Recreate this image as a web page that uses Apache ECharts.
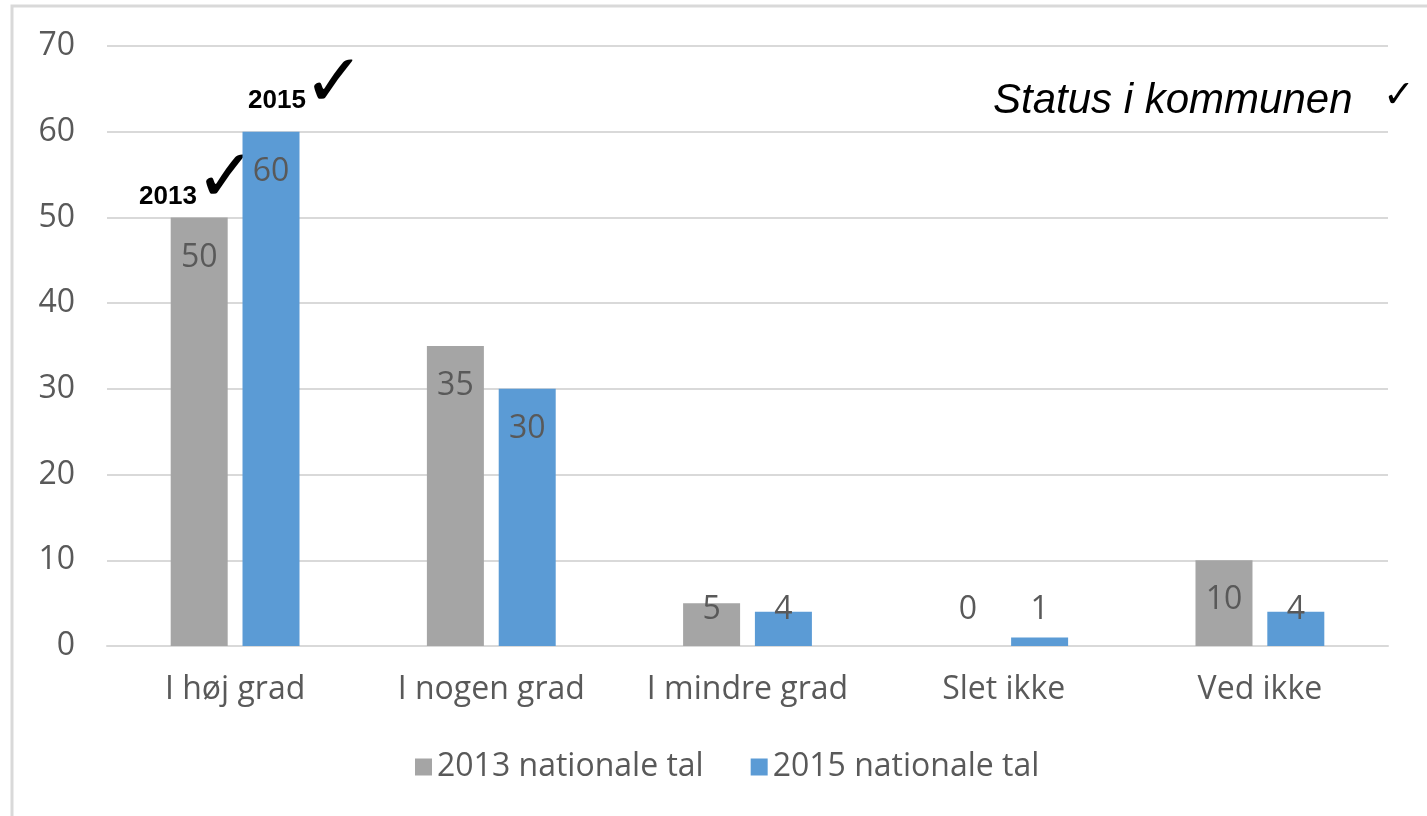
<!DOCTYPE html>
<html><head><meta charset="utf-8">
<script src="https://cdn.jsdelivr.net/npm/echarts@6/dist/echarts.min.js"></script>
<style>html,body{margin:0;padding:0;background:#fff}#c{width:1427px;height:816px}</style>
</head><body><div id="c"></div>
<script>
const categories = ['I høj grad', 'I nogen grad', 'I mindre grad', 'Slet ikke', 'Ved ikke'];
const series2013 = [50, 35, 5, 0, 10];
const series2015 = [60, 30, 4, 1, 4];
const yTicks = [0, 10, 20, 30, 40, 50, 60, 70];
const seriesNames = ['2013 nationale tal', '2015 nationale tal'];

const GRID = {left: 107, right: 39, top: 46, bottom: 170};
const H = 816 - GRID.top - GRID.bottom;
const YMAX = yTicks[yTicks.length - 1];
const pxPerUnit = H / YMAX;
// Excel-like "inside end" labels clamped so they stay above a floor line
function items(vals) {
  return vals.map(v => {
    const h = v * pxPerUnit;
    const off = Math.min(40, h - 36);
    return {value: v, label: {position: ['50%', off]}};
  });
}
const font = '"Open Sans", "Noto Sans", sans-serif';
const FS = 32;
const chart = echarts.init(document.getElementById('c'));
chart.setOption({
  animation: false,
  backgroundColor: '#fff',
  grid: GRID,
  legend: {
    top: 746, left: 410, itemWidth: 17, itemHeight: 17, itemGap: 47,
    icon: 'rect',
    textStyle: {fontFamily: font, fontSize: FS, color: '#595959'},
    data: seriesNames
  },
  xAxis: {
    type: 'category', data: categories,
    axisLine: {lineStyle: {color: '#d9d9d9', width: 2}},
    axisTick: {show: false},
    axisLabel: {fontFamily: font, fontSize: FS, color: '#595959', margin: 28, interval: 0, hideOverlap: false}
  },
  yAxis: {
    type: 'value', min: 0, max: YMAX, interval: 10,
    axisLine: {show: false}, axisTick: {show: false},
    splitLine: {lineStyle: {color: '#d9d9d9', width: 2}},
    axisLabel: {fontFamily: font, fontSize: FS, color: '#595959', margin: 32}
  },
  series: [
    {name: seriesNames[0], type: 'bar', data: items(series2013), barWidth: 57, barGap: '26%',
     itemStyle: {color: '#a5a5a5'},
     label: {show: true, align: 'center', verticalAlign: 'middle', fontFamily: font, fontSize: FS, color: '#595959'}},
    {name: seriesNames[1], type: 'bar', data: items(series2015), barWidth: 57,
     itemStyle: {color: '#5b9bd5'},
     label: {show: true, align: 'center', verticalAlign: 'middle', fontFamily: font, fontSize: FS, color: '#595959'}}
  ],
  graphic: [
    {type: 'rect', shape: {x: 12, y: 6, width: 1500, height: 900}, style: {fill: 'none', stroke: '#d9d9d9', lineWidth: 3}, z: -1, silent: true},
    {type: 'text', left: 139, top: 184, style: {text: '2013', font: 'bold 26px "Liberation Sans", Arial, sans-serif', fill: '#000'}},
    {type: 'text', left: 195, top: 145, style: {text: '✓', font: '74px "DejaVu Sans", sans-serif', fill: '#000'}},
    {type: 'text', left: 248, top: 88, style: {text: '2015', font: 'bold 26px "Liberation Sans", Arial, sans-serif', fill: '#000'}},
    {type: 'text', left: 303, top: 50, style: {text: '✓', font: '74px "DejaVu Sans", sans-serif', fill: '#000'}},
    {type: 'text', left: 993, top: 80, style: {text: 'Status i kommunen', font: 'italic 42px "Liberation Sans", Arial, sans-serif', fill: '#000'}},
    {type: 'text', left: 1383, top: 78, style: {text: '✓', font: '38px "DejaVu Sans", sans-serif', fill: '#000'}}
  ]
});
</script></body></html>
